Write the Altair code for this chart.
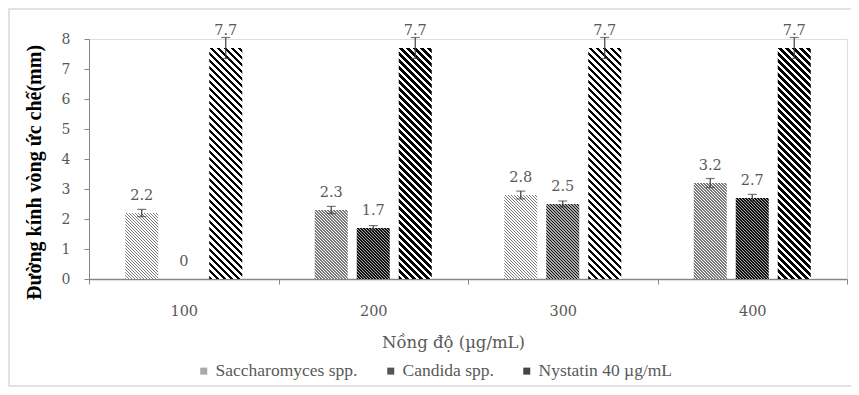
import math
import altair as alt
import pandas as pd

# ---------------- data ----------------
concentrations = ["100", "200", "300", "400"]
series = ["Saccharomyces spp.", "Candida spp.", "Nystatin 40 µg/mL"]
saccharomyces = [2.2, 2.3, 2.8, 3.2]
candida = [0, 1.7, 2.5, 2.7]
nystatin = [7.7, 7.7, 7.7, 7.7]
saccharomyces_err = [0.12, 0.12, 0.13, 0.15]
candida_err = [0, 0.08, 0.10, 0.12]
nystatin_err = [0.35, 0.35, 0.35, 0.35]
y_ticks = [0, 1, 2, 3, 4, 5, 6, 7, 8]

x_title = "Nồng độ (µg/mL)"
y_title = "Đường kính vòng ức chế(mm)"

rows = []
for s, vals, errs in [(series[0], saccharomyces, saccharomyces_err),
                      (series[1], candida, candida_err),
                      (series[2], nystatin, nystatin_err)]:
    for c, v, e in zip(concentrations, vals, errs):
        rows.append({"conc": c, "series": s, "value": v, "err": e,
                     "lo": v - e, "hi": v + e,
                     "label": ("%g" % v)})
df = pd.DataFrame(rows)

# ---------------- layout / style ----------------
W, H = 758, 240
PAD_L, PAD_T, PAD_R, PAD_B = 81, 31, 4, 108
Y_MAX = 8
BAND = W / len(concentrations)
STEP, BAR_W = 42.0, 33.0
P_IN = 1 - BAR_W / STEP
P_OUT = (BAND / STEP - len(series) + P_IN) / 2

GREY = "#595959"
AXIS = "#868686"
FONT = "DejaVu Serif"
LEGEND_FONT = "Liberation Serif"

hatch_style = {
    series[0]: dict(period=3 / math.sqrt(2), duty=0.42, dark="#7a7a7a", light="#ffffff"),
    series[1]: dict(period=3 / math.sqrt(2), duty=0.55, dark="#111111", light="#a8a8a8"),
    series[2]: dict(period=7 / math.sqrt(2), duty=0.5, dark="#000000", light="#ffffff"),
}
legend_colors = ["#a9a9a9", "#555555", "#454545"]


def hatch(w, h, period, duty, dark, light):
    """Linear gradient with hard stops -> '\\' stripes in a w x h box."""
    c = (w + h) / (w * w + h * h)
    length = (w + h) / math.sqrt(2)
    n = length / period
    stops = []
    k = 0
    while k < n:
        a = k / n
        b = min((k + duty) / n, 1.0)
        e = min((k + 1) / n, 1.0)
        stops += [{"offset": a, "color": dark}, {"offset": b, "color": dark},
                  {"offset": b, "color": light}, {"offset": e, "color": light}]
        k += 1
    return {"gradient": "linear", "x1": 0, "y1": 1,
            "x2": c * w, "y2": 1 - c * h, "stops": stops}


x_enc = alt.X("conc:N",
              scale=alt.Scale(domain=concentrations, paddingInner=0, paddingOuter=0),
              axis=alt.Axis(title=x_title, labelAngle=0, tickBand="extent",
                            tickSize=5, labelPadding=20, labelFont=FONT,
                            labelFontSize=14.5, labelColor=GREY,
                            titleFont=FONT, titleFontSize=16.5, titleColor=GREY,
                            titleFontWeight="normal", titleX=364, titleY=63,
                            titleAlign="center", titleBaseline="middle",
                            domainColor=AXIS, domainWidth=1.5, tickColor=AXIS))
xo_enc = alt.XOffset("series:N",
                     scale=alt.Scale(domain=series, paddingInner=P_IN, paddingOuter=P_OUT))
y_axis = alt.Axis(title=y_title, values=y_ticks, grid=False, tickSize=5,
                  labelPadding=14, labelFont=FONT, labelFontSize=14,
                  labelColor=GREY, titleFont="Liberation Serif", titleFontSize=20,
                  titleFontWeight="bold", titleColor="#000000", titleAngle=270,
                  titleX=-55, titleY=133, titleAlign="center",
                  titleBaseline="middle", domainColor=AXIS, tickColor=AXIS)
y_scale = alt.Scale(domain=[0, Y_MAX], nice=False)


def y_of(field):
    return alt.Y(field, scale=y_scale, axis=y_axis)


base = alt.Chart(df)
layers = []

# frame around the whole figure
layers.append(
    alt.Chart(alt.Data(values=[{"k": 1}])).mark_rect(
        filled=False, stroke="#d9d9d9", strokeWidth=1.5).encode(
        x=alt.value(-PAD_L + 1), x2=alt.value(W + 40),
        y=alt.value(-PAD_T + 1), y2=alt.value(H + PAD_B - 1))
)

# hatched bars (one layer per bar so that each gets its own stripe geometry)
for r in rows:
    if r["value"] <= 0:
        continue
    hpx = r["value"] * H / Y_MAX
    grad = hatch(BAR_W, hpx, **hatch_style[r["series"]])
    layers.append(
        base.transform_filter(
            (alt.datum.conc == r["conc"]) & (alt.datum.series == r["series"])
        ).mark_bar(fill=grad, stroke="transparent").encode(
            x=x_enc, xOffset=xo_enc, y=y_of("value:Q"))
    )

# invisible zero-height bars carrying the legend
layers.append(
    base.transform_calculate(zero="0").mark_bar().encode(
        x=x_enc, xOffset=xo_enc, y=y_of("zero:Q"),
        fill=alt.Fill("series:N",
                      scale=alt.Scale(domain=series, range=legend_colors),
                      legend=alt.Legend(title=None, orient="none", legendX=106,
                                        legendY=323, direction="horizontal",
                                        symbolType="square", symbolSize=49,
                                        symbolStrokeWidth=0, labelFont=LEGEND_FONT,
                                        labelFontSize=17.5, labelColor=GREY,
                                        labelOffset=3, columnPadding=24,
                                        labelLimit=400)))
)

err = base.transform_filter(alt.datum.err > 0)
layers.append(err.mark_rule(color="#404040", strokeWidth=1.2).encode(
    x=x_enc, xOffset=xo_enc, y=y_of("lo:Q"), y2="hi:Q"))
layers.append(err.mark_tick(color="#404040", thickness=1.2, size=9,
                            orient="horizontal").encode(
    x=x_enc, xOffset=xo_enc, y=y_of("lo:Q")))
layers.append(err.mark_tick(color="#404040", thickness=1.2, size=9,
                            orient="horizontal").encode(
    x=x_enc, xOffset=xo_enc, y=y_of("hi:Q")))

layers.append(base.mark_text(font=FONT, fontSize=14.5, color=GREY, dy=-17,
                             baseline="middle").encode(
    x=x_enc, xOffset=xo_enc, y=y_of("value:Q"), text="label:N"))

chart = alt.layer(*layers).properties(
    width=W, height=H,
    autosize=alt.AutoSizeParams(type="none"),
    padding={"left": PAD_L, "top": PAD_T, "right": PAD_R, "bottom": PAD_B},
    background="#ffffff",
).configure_view(
    stroke="transparent"
).configure(font=FONT)

chart.save("out.html", embed_options={"renderer": "svg", "actions": False})
